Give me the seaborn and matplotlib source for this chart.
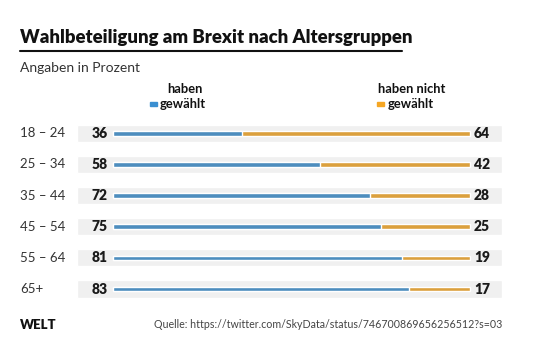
import seaborn as sns
import numpy as np
import pandas as pd
import matplotlib.pyplot as plt
import matplotlib.transforms as mtransforms
from matplotlib.patches import Rectangle
from matplotlib.lines import Line2D

sns.set_style("white")
plt.rcParams['font.family'] = ['Lato', 'DejaVu Sans']

# data
age_groups = ["18 – 24", "25 – 34", "35 – 44", "45 – 54", "55 – 64", "65+"]
voted = [36, 58, 72, 75, 81, 83]
not_voted = [64, 42, 28, 25, 19, 17]

BLUE = "#3a8fd1"
ORANGE = "#f5a623"
BAND = "#f0f0f0"

df = pd.DataFrame({"group": age_groups, "voted": voted, "not_voted": not_voted})
df["total"] = df["voted"] + df["not_voted"]

fig = plt.figure(figsize=(5.4, 3.6), dpi=100)
W, H = 540, 360
ax = fig.add_axes([77 / W, 1 - 304.6 / H, 425 / W, 187 / H])

xmin, xmax = -10.1, 109.0
ypos = np.arange(len(age_groups))

# grey background bands
ax.barh(ypos, xmax - xmin, left=xmin, height=0.55, color=BAND, zorder=0)

# stacked bars: orange total underneath, blue on top
sns.barplot(data=df, x="total", y="group", color=ORANGE, width=0.15,
            orient="h", ax=ax, zorder=2)
sns.barplot(data=df, x="voted", y="group", color=BLUE, width=0.15,
            orient="h", ax=ax, zorder=3)

ax.set_xlim(xmin, xmax)
ax.set_ylim(len(age_groups) - 0.5, -0.5)
ax.axis("off")

for i, row in df.iterrows():
    ax.annotate(str(row["voted"]), (0, i), xytext=(-4, 0), textcoords="offset points",
                ha="right", va="center", fontsize=10, fontweight="heavy", color="#1a1a1a")
    ax.annotate(str(row["not_voted"]), (row["total"], i), xytext=(3, 0),
                textcoords="offset points", ha="left", va="center",
                fontsize=10, fontweight="heavy", color="#1a1a1a")

# category labels on the left
trans = mtransforms.blended_transform_factory(fig.transFigure, ax.transData)
for i, g in enumerate(age_groups):
    ax.text(20 / W, i, g, transform=trans, ha="left", va="center",
            fontsize=9.5, color="#333333")

# header
fig.text(20 / W, 1 - 37 / H, "Wahlbeteiligung am Brexit nach Altersgruppen",
         ha="left", va="center", fontsize=13.3, fontweight="heavy", color="#111111")
fig.add_artist(Line2D([20 / W, 402 / W], [1 - 51 / H, 1 - 51 / H],
                      transform=fig.transFigure, color="#111111", lw=1.5))
fig.text(20 / W, 1 - 68 / H, "Angaben in Prozent", ha="left", va="center",
         fontsize=10, color="#333333")

# legend
fig.text(185 / W, 1 - 89 / H, "haben", ha="center", va="center",
         fontsize=9.3, fontweight="bold", color="#111111")
fig.add_artist(Rectangle((150 / W, 1 - 106 / H), 7 / W, 4 / H,
                         transform=fig.transFigure, color=BLUE))
fig.text(160 / W, 1 - 104 / H, "gewählt", ha="left", va="center",
         fontsize=9.3, fontweight="bold", color="#111111")
fig.text(378 / W, 1 - 89 / H, "haben nicht", ha="left", va="center",
         fontsize=9.3, fontweight="bold", color="#111111")
fig.add_artist(Rectangle((377 / W, 1 - 106 / H), 7 / W, 4 / H,
                         transform=fig.transFigure, color=ORANGE))
fig.text(388 / W, 1 - 104 / H, "gewählt", ha="left", va="center",
         fontsize=9.3, fontweight="bold", color="#111111")

# footer
fig.text(20 / W, 1 - 325 / H, "WELT", ha="left", va="center",
         fontsize=9.5, fontweight="heavy", color="#111111")
fig.text(502 / W, 1 - 325 / H, "Quelle: https://twitter.com/SkyData/status/746700869656256512?s=03",
         ha="right", va="center", fontsize=7.7, color="#444444")

fig.savefig("out.png", dpi=100)
